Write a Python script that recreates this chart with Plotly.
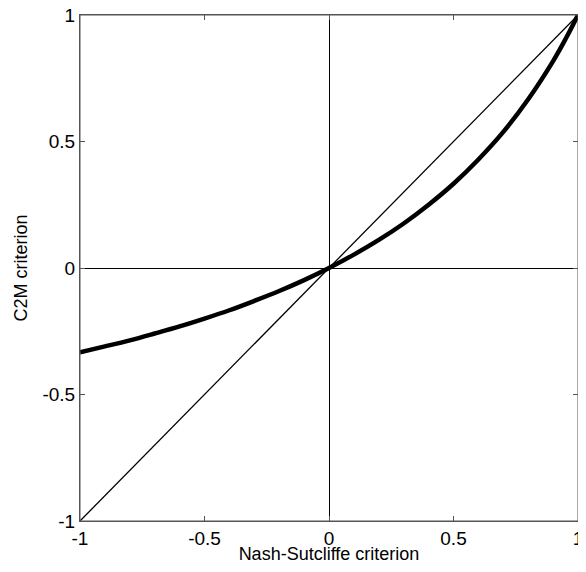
import plotly.graph_objects as go

# Values
nse = [-1.0, -0.9, -0.8, -0.7, -0.6, -0.5, -0.4, -0.3, -0.2, -0.1, 0.0,
       0.1, 0.2, 0.3, 0.4, 0.5, 0.6, 0.7, 0.8, 0.9, 0.95, 1.0]
c2m = [-0.333, -0.310, -0.286, -0.259, -0.231, -0.200, -0.167, -0.130, -0.091, -0.048, 0.0,
       0.053, 0.111, 0.176, 0.250, 0.333, 0.429, 0.538, 0.667, 0.818, 0.905, 1.0]
diag_x = [-1, 1]
diag_y = [-1, 1]
tick_vals = [-1, -0.5, 0, 0.5, 1]
tick_text = ["-1", "-0.5", "0", "0.5", "1"]

fig = go.Figure()
fig.add_trace(go.Scatter(x=diag_x, y=diag_y, mode="lines",
                         line=dict(color="black", width=1.3), showlegend=False,
                         cliponaxis=False))
fig.add_trace(go.Scatter(x=nse, y=c2m, mode="lines",
                         line=dict(color="black", width=4.5, shape="spline"),
                         showlegend=False, cliponaxis=False))

axis_common = dict(
    range=[-1, 1], tickvals=tick_vals, ticktext=tick_text,
    ticks="inside", ticklen=5, tickcolor="#555", tickwidth=1,
    showline=True, linecolor="#555", linewidth=1, mirror="ticks",
    showgrid=False, zeroline=True, zerolinecolor="black", zerolinewidth=1.3,
    automargin=False, ticklabeloverflow="allow",
    tickfont=dict(family="Liberation Sans, Arial", size=19, color="black"),
)

# the page adds an 8px body margin; keep the figure inside the 586x572 window
fig.update_layout(
    width=570, height=556,
    margin=dict(l=72, r=0, t=7, b=43),
    paper_bgcolor="white", plot_bgcolor="white",
    font=dict(family="Liberation Sans, Arial", color="black"),
    xaxis=dict(**axis_common,
               title=dict(text="Nash-Sutcliffe criterion",
                          font=dict(size=18), standoff=0)),
    yaxis=dict(**axis_common,
               title=dict(text="C2M criterion",
                          font=dict(size=18), standoff=10)),
    shapes=[dict(type="rect", xref="paper", yref="paper", x0=0, y0=0, x1=1, y1=1,
                 line=dict(color="#555", width=1), layer="above")],
)

fig.write_html("out.html")
